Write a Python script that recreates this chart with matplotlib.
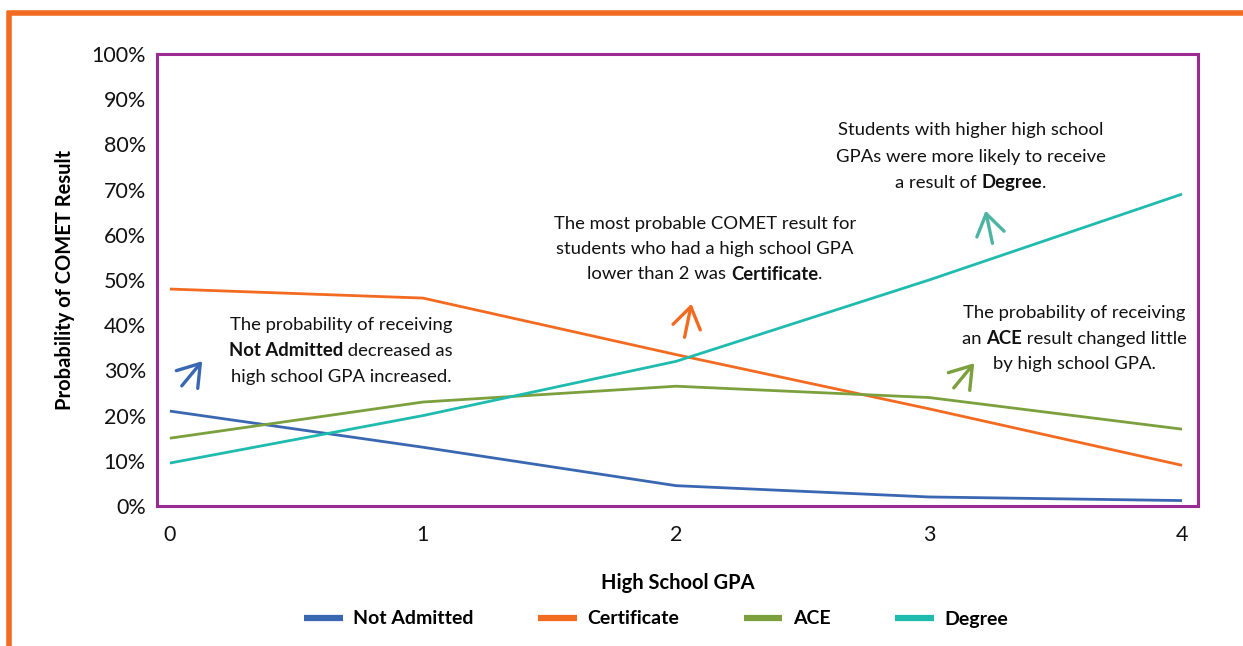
import matplotlib
matplotlib.use("Agg")
import matplotlib.pyplot as plt
from matplotlib.lines import Line2D
from matplotlib.patches import FancyArrowPatch

plt.rcParams['font.family'] = ['Lato', 'DejaVu Sans']

W, H = 1243, 646
DPI = 100

# probability of each COMET result by high school GPA
gpa = [0, 1, 2, 3, 4]
not_admitted = [21.0, 13.0, 4.5, 2.0, 1.2]
certificate = [48.0, 46.0, 33.5, 21.5, 9.0]
ace = [15.0, 23.0, 26.5, 24.0, 17.0]
degree = [9.5, 20.0, 32.0, 50.0, 69.0]

series_names = ["Not Admitted", "Certificate", "ACE", "Degree"]
series_colors = ["#3A67B1", "#F26B21", "#7BA03D", "#1FBBAE"]
y_ticks = list(range(0, 101, 10))
y_tick_labels = ["{}%".format(v) for v in y_ticks]

fig = plt.figure(figsize=(W / DPI, H / DPI), dpi=DPI)


def fx(px):
    return px / W


def fy(py):
    return 1 - py / H


# orange page border (top and left)
fig.add_artist(Line2D([fx(7), fx(W)], [fy(13), fy(13)], color="#F26B21", lw=4, solid_capstyle="butt"))
fig.add_artist(Line2D([fx(9), fx(9)], [fy(11), fy(H)], color="#F26B21", lw=4, solid_capstyle="butt"))

ax = fig.add_axes([fx(157), fy(506), fx(1198) - fx(157), fy(54) - fy(506)])
for s in ax.spines.values():
    s.set_color("#9B2A93")
    s.set_linewidth(2.2)

for vals, name, col in zip([not_admitted, certificate, ace, degree], series_names, series_colors):
    ax.plot(gpa, vals, color=col, lw=2.0, label=name, solid_capstyle="butt")

ax.set_xlim(-0.051, 4.063)
ax.set_ylim(0, 100)
ax.set_xticks(gpa)
ax.set_xticklabels([str(g) for g in gpa], fontsize=15.5, color="#111111")
ax.set_yticks(y_ticks)
ax.set_yticklabels(y_tick_labels, fontsize=15.5, color="#111111")
ax.tick_params(length=0, pad=8)
ax.tick_params(axis="x", pad=14)

ax.set_xlabel("High School GPA", fontsize=14.5, fontweight="bold", labelpad=20)
ax.set_ylabel("Probability of COMET Result", fontsize=14.5, fontweight="bold", labelpad=12)

leg = fig.legend(loc="center", bbox_to_anchor=(fx(656), fy(619)), ncol=4, frameon=False,
                 fontsize=14, handlelength=2.0, handletextpad=0.55, columnspacing=3.3)
for t in leg.get_texts():
    t.set_fontweight("bold")
for h in leg.get_lines():
    h.set_linewidth(4.5)

renderer = fig.canvas.get_renderer()


def rich_line(cx, cy, parts, size=13.3):
    # draw one centred line made of normal / bold pieces
    texts = []
    total = 0
    for s, bold in parts:
        t = fig.text(0, fy(cy), s, fontsize=size, fontweight="bold" if bold else "normal",
                     va="center", ha="left", color="#111111")
        w = t.get_window_extent(renderer).width
        texts.append((t, w))
        total += w
    x = cx - total / 2
    for t, w in texts:
        t.set_x(fx(x))
        x += w


notes = [
    (341, [325, 351, 377], [
        [("The probability of receiving", False)],
        [("Not Admitted", True), (" decreased as", False)],
        [("high school GPA increased.", False)],
    ]),
    (705, [224, 249, 274], [
        [("The most probable COMET result for", False)],
        [("students who had a high school GPA", False)],
        [("lower than 2 was ", False), ("Certificate", True), (".", False)],
    ]),
    (971, [130, 157, 183], [
        [("Students with higher high school", False)],
        [("GPAs were more likely to receive", False)],
        [("a result of ", False), ("Degree", True), (".", False)],
    ]),
    (1074, [313, 339, 364], [
        [("The probability of receiving", False)],
        [("an ", False), ("ACE", True), (" result changed little", False)],
        [("by high school GPA.", False)],
    ]),
]
for cx, ys, lines in notes:
    for cy, parts in zip(ys, lines):
        rich_line(cx, cy, parts)

# pointer arrows next to each note
arrows = [
    ((180, 388), (204, 359), "#3A67B1"),
    ((684, 340), (692, 301), "#F26B21"),
    ((993, 246), (985, 208), "#4DB3A2"),
    ((952, 390), (976, 361), "#7BA03D"),
]
for (x0, y0), (x1, y1), col in arrows:
    fig.add_artist(FancyArrowPatch(
        (fx(x0), fy(y0)), (fx(x1), fy(y1)), transform=fig.transFigure,
        arrowstyle="->,head_length=6,head_width=4", color=col, lw=2.4,
        mutation_scale=2.5))

fig.savefig("out.png", dpi=DPI)
